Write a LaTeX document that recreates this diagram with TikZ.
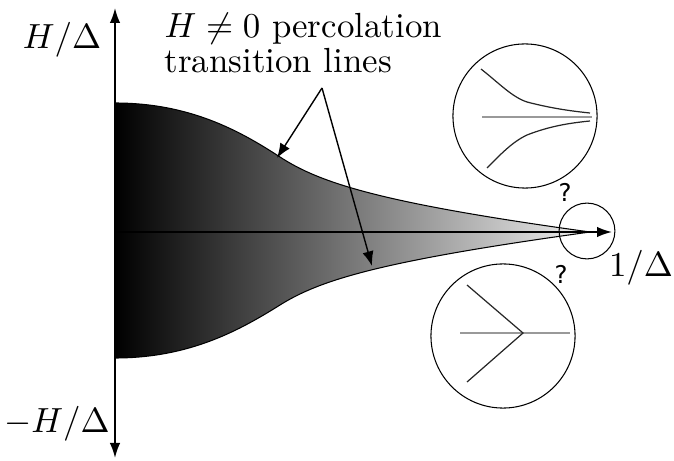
\documentclass[tikz,border=0pt]{standalone}
\usepackage{fontspec}
\newfontfamily\qmarkfont{DejaVu Sans}
\usetikzlibrary{arrows.meta,positioning}
\tikzset{axis/.style={{Latex[length=4.3pt,width=3pt]}-{Latex[length=4.3pt,width=3pt]},line width=0.5pt},
xaxis/.style={-{Latex[length=4.3pt,width=3pt]},line width=0.5pt},
pointer/.style={-{Latex[length=4.2pt,width=3.2pt]},line width=0.4pt},
phase/.style={left color=black,right color=black!6,draw=black,line width=0.3pt},
inset/.style={circle,draw,line width=0.3pt,inner sep=0pt},
flowline/.style={draw=gray!80,line width=0.6pt},
critline/.style={draw=black!85,line width=0.35pt},
qmark/.style={font=\qmarkfont\fontsize{7}{8}\selectfont,inner sep=0pt},
note/.style={align=left,inner sep=2pt}}
\begin{document}
\begin{tikzpicture}[x=0.2866pt,y=-0.2866pt]
\useasboundingbox (0,0) rectangle (674,461);
% shaded region between the two transition lines
\shade[phase] (115,103) .. controls (190,103) and (240,131) .. (280,157)
  .. controls (320,183) and (380,203) .. (590,232)
  .. controls (380,261) and (320,280) .. (280,305)
  .. controls (240,330) and (190,358) .. (115,358) -- cycle;
\coordinate (ytop) at (115,8);\coordinate (ybot) at (115,458);
\coordinate (origin) at (115,232);\coordinate (xend) at (612,232);
\draw[axis](ybot)--(ytop);
\draw[xaxis](origin)--(xend);
\node (hlab) at (62,40) {$H/\Delta$};
\node (mhlab) at (57,424) {$-H/\Delta$};
\node (xlab) at (641,268) {$1/\Delta$};
% annotation
\node[note,anchor=north west] (label) at (157,6) {$H\neq0$ percolation\\[-2pt]transition lines};
\coordinate (apex) at (322,88);
\coordinate (hitup) at (277,158);\coordinate (hitlo) at (372,266);
\draw[pointer](apex)--(hitup);\draw[pointer](apex)--(hitlo);
% zoomed endpoint and the two possible scenarios
\node[inset,minimum size=16pt] (tip) at (587,231) {};
\node[qmark] (qup) at (565,192) {?};
\node[qmark] (qlo) at (561,274) {?};
\node[inset,minimum size=41.3pt] (upcirc) at (525,116) {};
\draw[flowline] (482,117) -- (592,117);
\draw[critline] (481,69) .. controls (500,84) and (512,97) .. (527,102) .. controls (550,108) and (570,111) .. (590,113);
\draw[critline] (487,168) .. controls (500,155) and (512,142) .. (527,135) .. controls (550,126) and (570,123) .. (590,121);
\node[inset,minimum size=41.3pt] (locirc) at (503,336) {};
\coordinate (vertex) at (523,333);
\draw[flowline] (460,333) -- (570,333);
\draw[critline] (467,285) -- (vertex) -- (467,382);
\end{tikzpicture}
\end{document}
